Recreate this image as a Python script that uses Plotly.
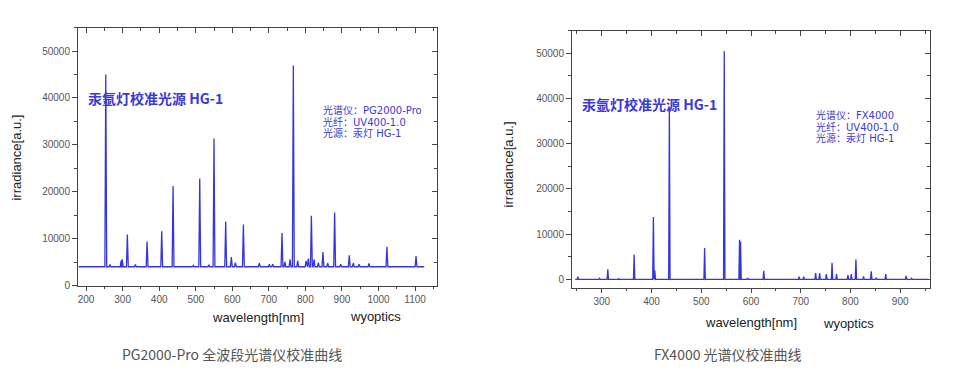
import plotly.graph_objects as go

# ---------------- data ----------------
# Left panel: PG2000-Pro
pg_range = [180, 1125]
pg_baseline = 4000
pg_peak_wl = [254, 265.6, 296, 299, 313, 335, 367, 407, 438, 493.6, 511, 536, 550,
              582, 597.5, 608.5, 630.4, 674, 701.5, 710.6, 736, 744, 758, 767,
              779, 801.8, 808, 816.4, 823.7, 835.5, 848, 861, 880, 896.6, 920,
              931, 946.8, 974, 1023, 1102.7]
pg_peak_h = [45000, 4500, 5300, 5600, 10850, 4500, 9380, 11550, 21220, 4300, 22830, 4400, 31370,
             13650, 6090, 4900, 13020, 4760, 4550, 4550, 11200, 5040, 5600, 46920,
             5250, 5250, 5740, 14850, 5600, 4900, 7140, 4760, 15550, 4550, 6440,
             4760, 4550, 4690, 8260, 6300]

# Right panel: FX4000
fx_range = [246.5, 955.5]
fx_baseline = 0
fx_peak_wl = [251.8, 295.3, 312, 334, 365, 403.7, 406.5, 435.8, 506.7, 546.2, 577, 579,
              593, 625.7, 696.6, 706, 730, 738, 751.5, 763, 772, 795, 801.7, 811,
              826.4, 841.8, 852, 871, 912, 923]
fx_peak_h = [580, 220, 2250, 150, 5500, 13770, 2000, 37900, 6960, 50430, 8770, 8400,
             300, 1880, 580, 580, 1380, 1380, 1160, 3700, 1160, 940, 1160, 4420,
             650, 1810, 360, 1160, 800, 220]

x_ticks_pg = [200, 300, 400, 500, 600, 700, 800, 900, 1000, 1100]
x_ticks_fx = [300, 400, 500, 600, 700, 800, 900]
y_ticks = [0, 10000, 20000, 30000, 40000, 50000]

title_text = "汞氩灯校准光源 HG-1"
pg_info = ["光谱仪：PG2000-Pro", "光纤：UV400-1.0", "光源：汞灯 HG-1"]
fx_info = ["光谱仪：FX4000", "光纤：UV400-1.0", "光源：汞灯 HG-1"]
pg_caption = "PG2000-Pro 全波段光谱仪校准曲线"
fx_caption = "FX4000 光谱仪校准曲线"


def build_line(rng, base, wls, hs, hw):
    xs, ys = [rng[0]], [base]
    for wl, h in sorted(zip(wls, hs)):
        xs += [wl - hw, wl, wl + hw]
        ys += [base, h, base]
    xs.append(rng[1])
    ys.append(base)
    return xs, ys


W, H = 958, 387
LINE = "#3535dc"
TXT_BLUE = "#3a3ad6"
FRAME = "#444444"
SANS = "Liberation Sans, Arial, sans-serif"
CJK = "Noto Sans CJK SC, sans-serif"
INFO = "DejaVu Sans, Noto Sans CJK SC, sans-serif"

fig = go.Figure()

px_, py_ = build_line(pg_range, pg_baseline, pg_peak_wl, pg_peak_h, 2.5)
fig.add_trace(go.Scatter(x=px_, y=py_, mode="lines", line=dict(color=LINE, width=1.3),
                         xaxis="x", yaxis="y", hoverinfo="skip", showlegend=False))
fx_, fy_ = build_line(fx_range, fx_baseline, fx_peak_wl, fx_peak_h, 1.4)
fig.add_trace(go.Scatter(x=fx_, y=fy_, mode="lines", line=dict(color=LINE, width=1.3),
                         xaxis="x2", yaxis="y2", hoverinfo="skip", showlegend=False))
# empty traces for the mirror (top/right) tick axes
fig.add_trace(go.Scatter(x=[], y=[], xaxis="x3", yaxis="y3", showlegend=False))
fig.add_trace(go.Scatter(x=[], y=[], xaxis="x4", yaxis="y4", showlegend=False))


def px(x):
    return x / W


def py(y):
    return 1 - y / H


L_dom_x = [px(78), px(437)]
L_dom_y = [py(290), py(28)]
R_dom_x = [px(572), px(930)]
R_dom_y = [py(293), py(31)]
L_xr = [178, 1160]
L_yr = [0, 55000]
R_xr = [240, 960]
R_yr = [-2000, 55000]

tickfont = dict(family=SANS, size=10, color="#555555")


def main_x(dom, rng, ticks):
    return dict(domain=dom, range=rng, tickvals=ticks, ticks="outside", ticklen=4,
                tickcolor=FRAME, tickwidth=1, showline=True, linecolor=FRAME, linewidth=1,
                mirror=True, showgrid=False, zeroline=False, tickfont=tickfont,
                minor=dict(ticks="outside", dtick=50, ticklen=2, tickcolor=FRAME),
                fixedrange=True)


def main_y(dom, rng):
    return dict(domain=dom, range=rng, tickvals=y_ticks, tickformat="d", ticks="outside",
                ticklen=5, tickcolor=FRAME, tickwidth=1, showline=True, linecolor=FRAME,
                linewidth=1, mirror=True, showgrid=False, zeroline=False, tickfont=tickfont,
                minor=dict(ticks="outside", dtick=5000, ticklen=3, tickcolor=FRAME),
                fixedrange=True)


def mirror_x(dom, rng, ticks, over):
    return dict(domain=dom, range=rng, tickvals=ticks, ticks="inside", ticklen=5,
                tickcolor=FRAME, side="top", overlaying=over, showticklabels=False,
                showline=False, showgrid=False, zeroline=False,
                minor=dict(ticks="inside", dtick=50, ticklen=3, tickcolor=FRAME),
                fixedrange=True)


def mirror_y(dom, rng, over):
    return dict(domain=dom, range=rng, tickvals=y_ticks, ticks="inside", ticklen=5,
                tickcolor=FRAME, side="right", overlaying=over, showticklabels=False,
                showline=False, showgrid=False, zeroline=False,
                minor=dict(ticks="inside", dtick=5000, ticklen=3, tickcolor=FRAME),
                fixedrange=True)


fig.update_layout(
    width=W, height=H, margin=dict(l=0, r=0, t=0, b=0),
    paper_bgcolor="white", plot_bgcolor="white", showlegend=False,
    xaxis=main_x(L_dom_x, L_xr, x_ticks_pg),
    yaxis=main_y(L_dom_y, L_yr),
    xaxis2=dict(main_x(R_dom_x, R_xr, x_ticks_fx), anchor="y2"),
    yaxis2=dict(main_y(R_dom_y, R_yr), anchor="x2"),
    xaxis3=dict(mirror_x(L_dom_x, L_xr, x_ticks_pg, "x"), anchor="y3"),
    yaxis3=dict(mirror_y(L_dom_y, L_yr, "y"), anchor="x3"),
    xaxis4=dict(mirror_x(R_dom_x, R_xr, x_ticks_fx, "x2"), anchor="y4"),
    yaxis4=dict(mirror_y(R_dom_y, R_yr, "y2"), anchor="x4"),
)


def ann(text, x, y, size, color, family, xanchor="center", yanchor="middle", angle=0, bold=False):
    if bold:
        text = "<b>" + text + "</b>"
    fig.add_annotation(text=text, x=px(x), y=py(y), xref="paper", yref="paper",
                       showarrow=False, xanchor=xanchor, yanchor=yanchor, textangle=angle,
                       borderpad=0, font=dict(size=size, color=color, family=family))


# titles inside plots
ann(title_text, 87, 100, 14, TXT_BLUE, CJK, xanchor="left", bold=True)
ann(title_text, 581, 106, 14, TXT_BLUE, CJK, xanchor="left", bold=True)
for i, t in enumerate(pg_info):
    ann(t, 322, 112 + 11.5 * i, 10, TXT_BLUE, INFO, xanchor="left")
for i, t in enumerate(fx_info):
    ann(t, 815, 117 + 11.5 * i, 10, TXT_BLUE, INFO, xanchor="left")

# axis titles
ann("irradiance[a.u.]", 17, 160, 13, "#222222", SANS, angle=-90)
ann("irradiance[a.u.]", 508, 167, 13, "#222222", SANS, angle=-90)
ann("wavelength[nm]", 258, 323, 13, "#222222", SANS)
ann("wyoptics", 375, 321, 13, "#222222", SANS)
ann("wavelength[nm]", 751, 328, 13, "#222222", SANS)
ann("wyoptics", 848, 329, 13, "#222222", SANS)

# captions
ann(pg_caption, 232, 360, 14, "#555555", CJK)
ann(fx_caption, 728, 360, 14, "#555555", CJK)

fig.write_html("out.html", config={"displayModeBar": False},
               post_script="document.body.style.margin='0';")
